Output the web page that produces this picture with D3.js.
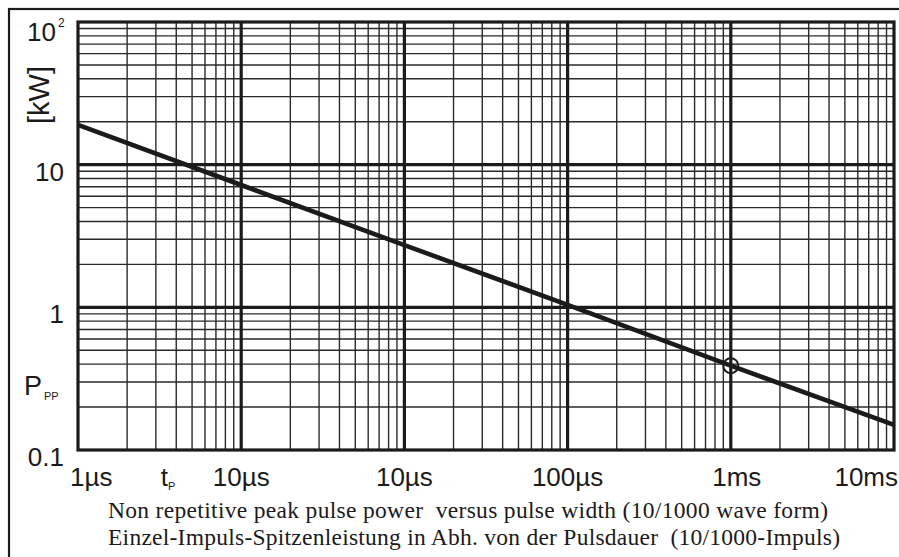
<!DOCTYPE html>
<html>
<head>
<meta charset="utf-8">
<script src="https://cdn.jsdelivr.net/npm/d3@7"></script>
<style>
  html, body { margin: 0; padding: 0; background: #fff; }
  svg { display: block; }
  text { white-space: pre; }
</style>
</head>
<body>
<svg id="chart" width="899" height="557"></svg>
<script>
// ---- data ----
const xDecades = [1e-6, 1e-5, 1e-4, 1e-3, 1e-2, 1e-1];
const xTickLabels = ["1µs", "10µs", "10µs", "100µs", "1ms", "10ms"];
const yDecades = [0.1, 1, 10, 100];
const yTickLabels = ["0.1", "1", "10", "10"];
const curveT = [1e-6, 1e-5, 1e-4, 1e-3, 1e-2, 1e-1];
const curveP = [19, 7.2, 2.73, 1.04, 0.39, 0.15];
const markerT = [1e-2];
const markerP = [0.39];
const tpPosition = [3.5e-6];
const captionLines = [
  "Non repetitive peak pulse power  versus pulse width (10/1000 wave form)",
  "Einzel-Impuls-Spitzenleistung in Abh. von der Pulsdauer  (10/1000-Impuls)"
];
const captionWidths = [720, 732];

// ---- layout ----
const svg = d3.select("#chart");
const L = 78, R = 894, T = 22, B = 450;
const x = d3.scaleLog().domain([1e-6, 1e-1]).range([L, R]);
const y = d3.scaleLog().domain([0.1, 100]).range([B, T]);
const ink = "#1c1a1a";

// outer frame
svg.append("rect").attr("x", 9).attr("y", 9).attr("width", 1000).attr("height", 1000)
  .attr("fill", "none").attr("stroke", ink).attr("stroke-width", 2.2);

// minor grid
const minorX = [], minorY = [];
xDecades.slice(0, -1).forEach(d => { for (let m = 2; m <= 9; m++) minorX.push(d * m); });
yDecades.slice(0, -1).forEach(d => { for (let m = 2; m <= 9; m++) minorY.push(d * m); });

const g = svg.append("g");
g.selectAll("line.mx").data(minorX).join("line").attr("class", "mx")
  .attr("x1", d => x(d)).attr("x2", d => x(d)).attr("y1", T).attr("y2", B)
  .attr("stroke", "#2a2a2a").attr("stroke-width", 1.4);
g.selectAll("line.my").data(minorY).join("line").attr("class", "my")
  .attr("y1", d => y(d)).attr("y2", d => y(d)).attr("x1", L).attr("x2", R)
  .attr("stroke", "#2a2a2a").attr("stroke-width", 1.4);

// major grid
g.selectAll("line.Mx").data(xDecades.slice(1, -1)).join("line").attr("class", "Mx")
  .attr("x1", d => x(d)).attr("x2", d => x(d)).attr("y1", T).attr("y2", B)
  .attr("stroke", ink).attr("stroke-width", 3.2);
g.selectAll("line.My").data(yDecades.slice(1, -1)).join("line").attr("class", "My")
  .attr("y1", d => y(d)).attr("y2", d => y(d)).attr("x1", L).attr("x2", R)
  .attr("stroke", ink).attr("stroke-width", 3.2);

// plot border
svg.append("rect").attr("x", L).attr("y", T).attr("width", R - L).attr("height", B - T)
  .attr("fill", "none").attr("stroke", ink).attr("stroke-width", 3.2);

// curve
const pts = curveT.map((t, i) => [t, curveP[i]]);
svg.append("path").datum(pts)
  .attr("d", d3.line().x(d => x(d[0])).y(d => y(d[1])))
  .attr("fill", "none").attr("stroke", ink).attr("stroke-width", 4.6);

// marker circle
svg.selectAll("circle.mk").data(markerT).join("circle").attr("class", "mk")
  .attr("cx", d => x(d)).attr("cy", (d, i) => y(markerP[i])).attr("r", 7.5)
  .attr("fill", "none").attr("stroke", ink).attr("stroke-width", 2);

// x tick labels
const font = "Arial, 'Liberation Sans', Helvetica, sans-serif";
svg.selectAll("text.xl").data(xDecades).join("text").attr("class", "xl")
  .attr("x", (d, i) => i === 0 ? 70 : (i === xDecades.length - 1 ? 898 : x(d) + (i === 4 ? 6 : 0)))
  .attr("y", 486)
  .attr("text-anchor", (d, i) => i === 0 ? "start" : (i === xDecades.length - 1 ? "end" : "middle"))
  .attr("font-family", font).attr("font-size", 26).attr("fill", ink)
  .text((d, i) => xTickLabels[i]);

// t_P label
const tpLabel = svg.append("text").attr("x", x(tpPosition[0]) - 6).attr("y", 486)
  .attr("font-family", font).attr("font-size", 26).attr("fill", ink);
tpLabel.append("tspan").text("t");
tpLabel.append("tspan").attr("font-size", 11).attr("dy", 4).text("P");

// y tick labels
svg.selectAll("text.yl").data(yDecades.slice(0, -1)).join("text").attr("class", "yl")
  .attr("x", 64).attr("y", d => y(d) + 16)
  .attr("text-anchor", "end")
  .attr("font-family", font).attr("font-size", 26).attr("fill", ink)
  .text((d, i) => yTickLabels[i]);
const topLabel = svg.append("text").attr("x", 27).attr("y", 41)
  .attr("font-family", font).attr("font-size", 26).attr("fill", ink);
topLabel.append("tspan").text(yTickLabels[3]);
topLabel.append("tspan").attr("font-size", 12).attr("dy", -14).attr("dx", 2).text("2");

// axis titles
svg.append("text").attr("transform", "translate(49,95) rotate(-90)")
  .attr("text-anchor", "middle")
  .attr("font-family", font).attr("font-size", 29).attr("fill", ink).text("[kW]");
const ppLabel = svg.append("text").attr("x", 24).attr("y", 395)
  .attr("font-family", font).attr("font-size", 27).attr("fill", ink);
ppLabel.append("tspan").text("P");
ppLabel.append("tspan").attr("font-size", 11).attr("dy", 5).attr("dx", 2).text("PP");

// caption
svg.selectAll("text.cap").data(captionLines).join("text").attr("class", "cap")
  .attr("x", 108).attr("y", (d, i) => 518 + i * 27)
  .attr("font-family", "'Liberation Serif', 'Times New Roman', serif")
  .attr("font-size", 23.5).attr("fill", ink)
  .attr("textLength", (d, i) => captionWidths[i])
  .attr("lengthAdjust", "spacing")
  .text(d => d);
</script>
</body>
</html>
